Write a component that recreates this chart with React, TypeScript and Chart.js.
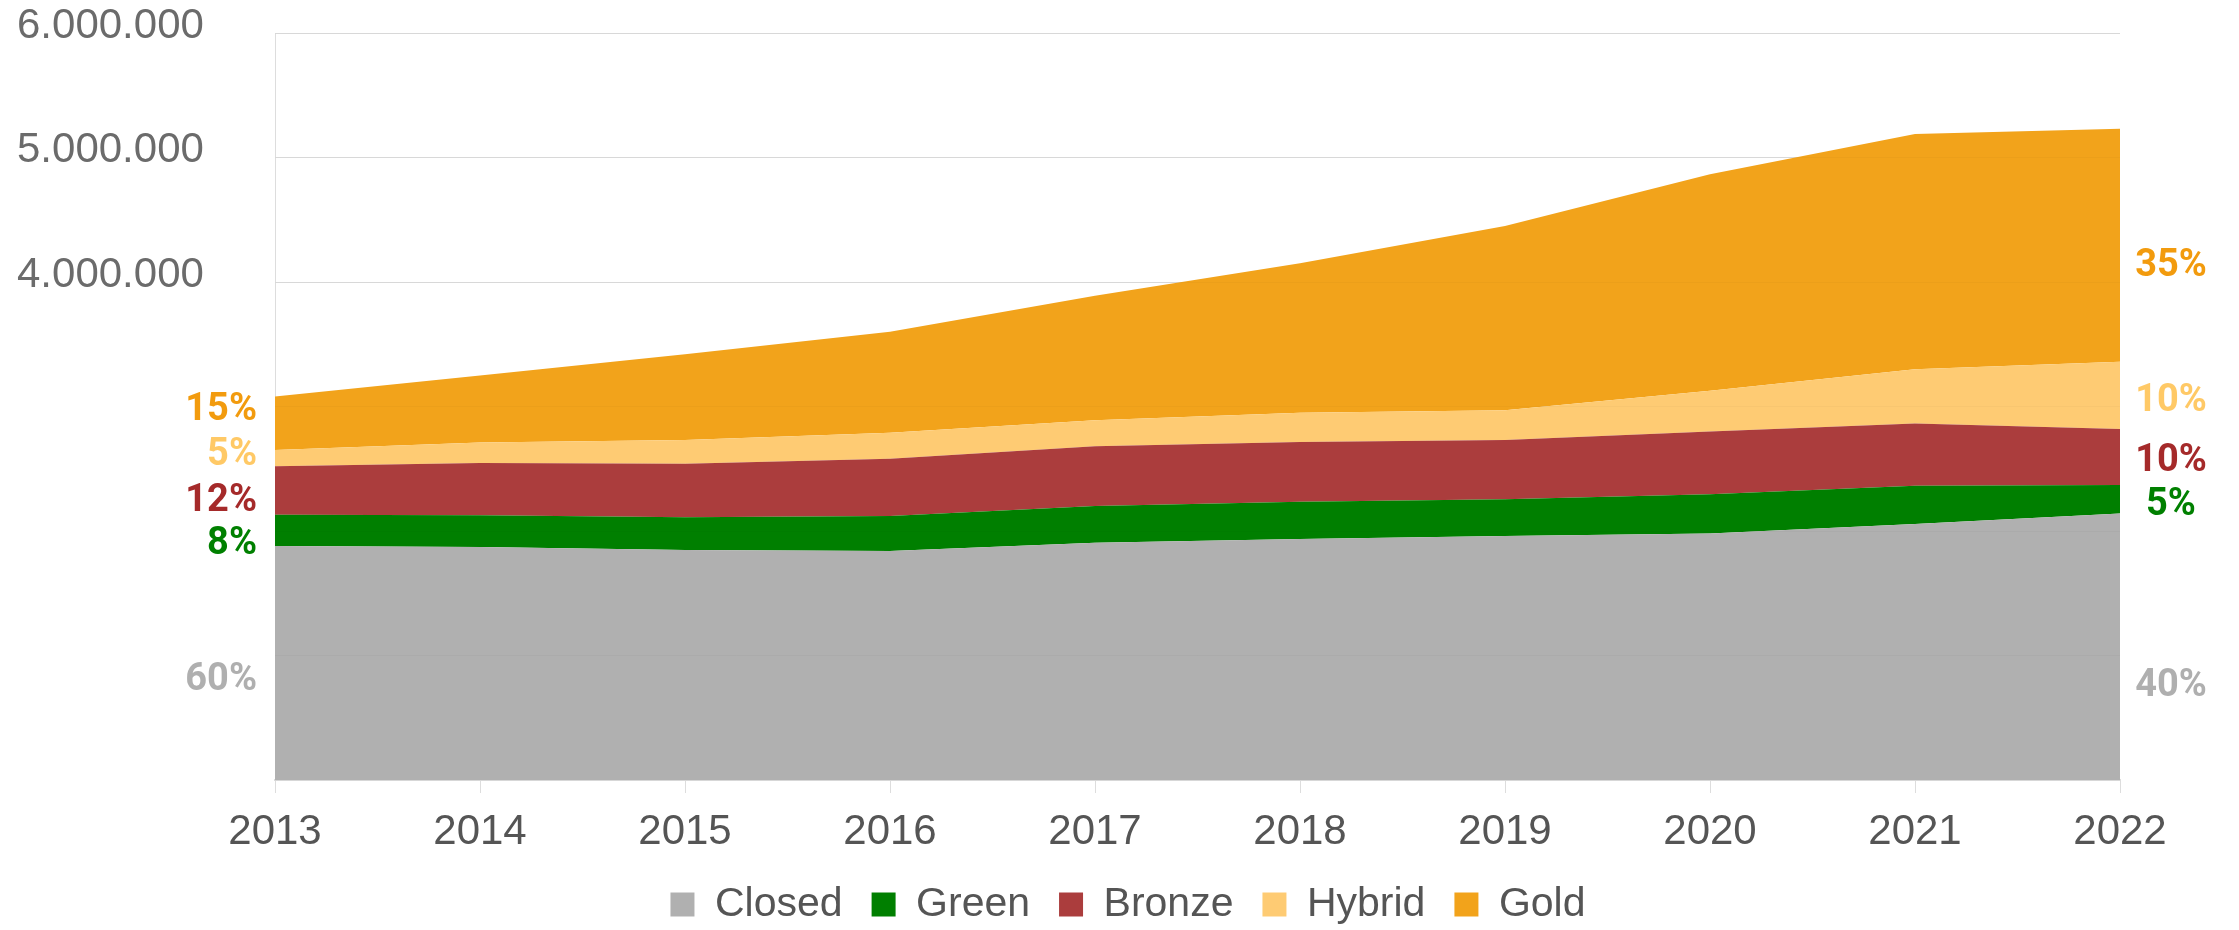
import React, { useEffect, useRef } from 'react';
import { Chart, registerables } from 'chart.js';

Chart.register(...registerables);

const years = ['2013', '2014', '2015', '2016', '2017', '2018', '2019', '2020', '2021', '2022'];
const closed = [1880000, 1871000, 1847000, 1840000, 1906000, 1936000, 1960000, 1980000, 2056000, 2140000];
const green = [250000, 255000, 263000, 280000, 294000, 299000, 295000, 315000, 308000, 230000];
const bronze = [390000, 420000, 430000, 460000, 480000, 480000, 475000, 505000, 500000, 450000];
const hybrid = [130000, 164000, 190000, 210000, 210000, 235000, 240000, 327000, 435000, 540000];
const gold = [430000, 540000, 690000, 810000, 1000000, 1200000, 1480000, 1738000, 1890000, 1870000];

const seriesNames = ['Closed', 'Green', 'Bronze', 'Hybrid', 'Gold'];
const shares2013 = ['60%', '8%', '12%', '5%', '15%'];
const shares2022 = ['40%', '5%', '10%', '10%', '35%'];
// vertical anchor (in axis units) of the share annotations
const shares2013At = [835000, 1920000, 2273000, 2635000, 2996000];
const shares2022At = [787000, 2233000, 2594000, 3076000, 4153000];
const shownTickMin = 4000000;

const fillColors = ['#b0b0b0', '#007f00', '#ab3d3d', '#fecb73', '#f2a31b'];
const textColors = ['#afafaf', '#008000', '#a52a2a', '#ffc966', '#f29b0e'];

const fmt = (v: number) => String(v).replace(/\B(?=(\d{3})+(?!\d))/g, '.');

const shareLabels = {
  id: 'shareLabels',
  afterDatasetsDraw(chart: any) {
    const { ctx, chartArea, scales } = chart;
    const y = scales.y;
    ctx.save();
    ctx.font = 'bold 38px Roboto';
    ctx.textBaseline = 'middle';
    shares2013.forEach((t, i) => {
      ctx.fillStyle = textColors[i];
      ctx.textAlign = 'right';
      ctx.fillText(t, chartArea.left - 18, y.getPixelForValue(shares2013At[i]) + 4);
    });
    shares2022.forEach((t, i) => {
      ctx.fillStyle = textColors[i];
      ctx.textAlign = 'center';
      ctx.fillText(t, chartArea.right + 51, y.getPixelForValue(shares2022At[i]) + 4);
    });
    ctx.restore();
  },
};

export default function App() {
  const ref = useRef<HTMLCanvasElement>(null);
  useEffect(() => {
    document.body.style.margin = '0';
    const series = [closed, green, bronze, hybrid, gold];
    const chart = new Chart(ref.current as HTMLCanvasElement, {
      type: 'line',
      data: {
        labels: years,
        datasets: series.map((d, i) => ({
          label: seriesNames[i],
          data: d,
          backgroundColor: fillColors[i],
          borderColor: fillColors[i],
          borderWidth: 0,
          pointRadius: 0,
          fill: i === 0 ? 'origin' : '-1',
          tension: 0,
        })),
      },
      options: {
        responsive: false,
        animation: false,
        devicePixelRatio: 1,
        layout: { padding: { left: 17, right: 0, top: 33, bottom: 0 } },
        plugins: {
          tooltip: { enabled: false },
          legend: {
            position: 'bottom',
            maxHeight: 75,
            labels: {
              boxWidth: 24,
              boxHeight: 24,
              padding: 29,
              color: '#555555',
              font: { family: 'Liberation Sans', size: 41 },
            },
          },
        },
        scales: {
          x: {
            offset: false,
            grid: { drawOnChartArea: false, drawTicks: true, tickLength: 13, color: '#dddddd' },
            border: { display: true, color: '#dddddd', width: 2 },
            ticks: {
              color: '#555555',
              font: { family: 'Liberation Sans', size: 42 },
              padding: 14,
              maxRotation: 0,
              autoSkip: false,
            },
            afterFit: (s: any) => { s.height = 75; },
          },
          y: {
            stacked: true,
            min: 0,
            max: 6000000,
            grid: { drawTicks: false, color: '#dedede' },
            border: { display: true, color: '#dddddd' },
            ticks: {
              stepSize: 1000000,
              crossAlign: 'far',
              labelOffset: -7,
              color: '#6b6b6b',
              font: { family: 'Liberation Sans', size: 42 },
              callback: (v: any) => (Number(v) >= shownTickMin ? fmt(Number(v)) : ''),
            },
            afterFit: (s: any) => { s.width = 258; },
          },
          yGrid: {
            position: 'left',
            min: 0,
            max: 6000000,
            grid: { z: 1, drawTicks: false, color: 'rgba(0,0,0,0.025)' },
            border: { display: false },
            ticks: { display: false, stepSize: 1000000 },
            afterFit: (s: any) => { s.width = 0; },
          },
          yRight: {
            position: 'right',
            min: 0,
            max: 6000000,
            grid: { display: false },
            border: { display: false },
            ticks: { display: false },
            afterFit: (s: any) => { s.width = 119; },
          },
        },
      },
      plugins: [shareLabels],
    } as any);
    return () => chart.destroy();
  }, []);
  return <canvas ref={ref} width={2239} height={930} style={{ display: 'block' }} />;
}
